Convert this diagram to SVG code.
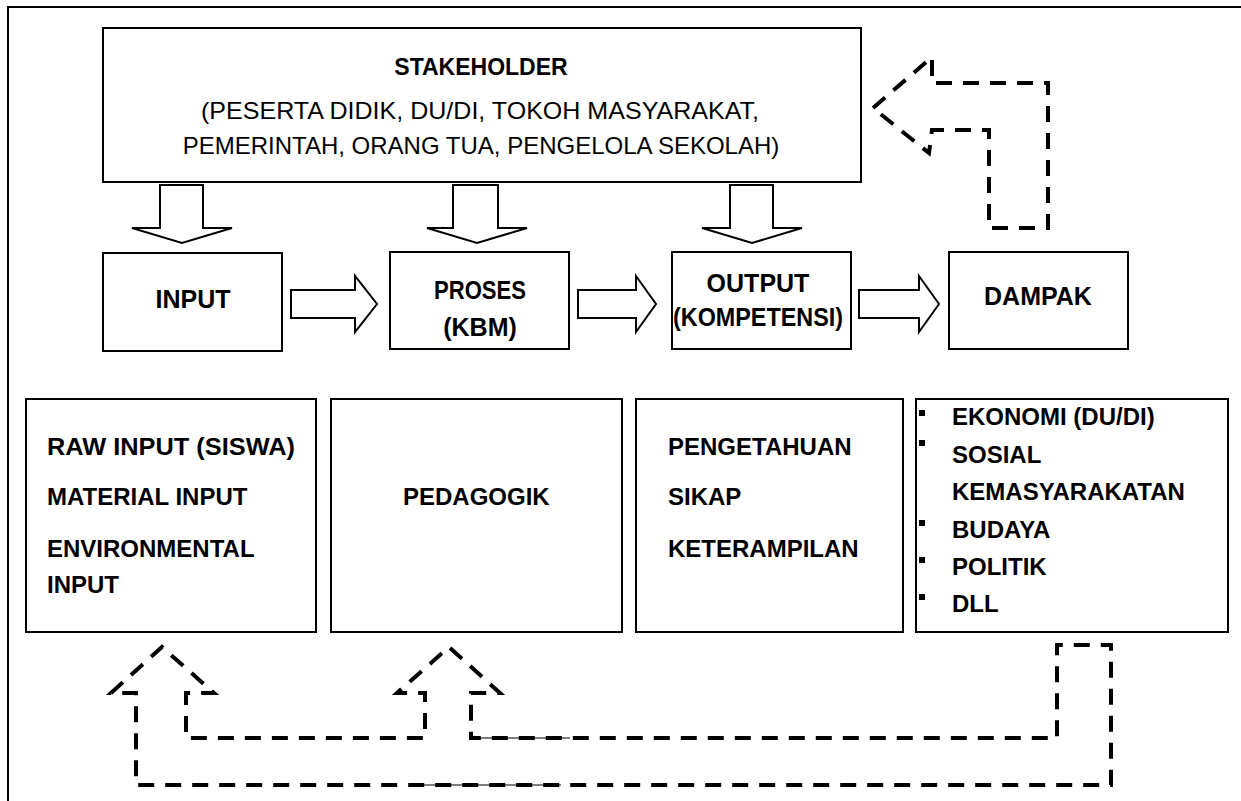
<svg xmlns="http://www.w3.org/2000/svg" width="1241" height="801" viewBox="0 0 1241 801">
<style>
  .box { fill: #fff; stroke: #000; stroke-width: 2; }
  .blk { fill: #fff; stroke: #000; stroke-width: 2; stroke-linejoin: miter; }
  .dash { fill: none; stroke: #000; stroke-width: 4; stroke-dasharray: 16 11; }
  .thin { fill: none; stroke: #000; stroke-width: 1; }
  text { font-family: "Liberation Sans", Arial, sans-serif; fill: #000; }
  .b { font-weight: bold; }
  .mid { font-size: 25px; font-weight: bold; text-anchor: middle; }
  .low { font-size: 24px; font-weight: bold; }
</style>
<rect x="0" y="0" width="1241" height="801" fill="#fff"/>
<path d="M8,801 L8,7 L1241,7" fill="none" stroke="#000" stroke-width="2"/>

<g id="stakeholder">
  <rect class="box" x="103" y="28" width="758" height="154"/>
  <text x="481" y="75" font-size="23" class="b" text-anchor="middle">STAKEHOLDER</text>
  <text x="480" y="119" font-size="24" text-anchor="middle" textLength="558" lengthAdjust="spacingAndGlyphs">(PESERTA DIDIK, DU/DI, TOKOH MASYARAKAT,</text>
  <text x="481" y="154" font-size="24" text-anchor="middle">PEMERINTAH, ORANG TUA, PENGELOLA SEKOLAH)</text>
</g>

<g id="input">
  <rect class="box" x="103" y="253" width="179" height="98"/>
  <text class="mid" x="193" y="308">INPUT</text>
</g>
<g id="proses">
  <rect class="box" x="390" y="252" width="179" height="97"/>
  <text class="mid" x="480" y="299" textLength="92" lengthAdjust="spacingAndGlyphs">PROSES</text>
  <text class="mid" x="480" y="336">(KBM)</text>
</g>
<g id="output">
  <rect class="box" x="672" y="252" width="179" height="97"/>
  <text class="mid" x="758" y="292">OUTPUT</text>
  <text class="mid" x="758" y="326" textLength="170" lengthAdjust="spacingAndGlyphs">(KOMPETENSI)</text>
</g>
<g id="dampak">
  <rect class="box" x="949" y="252" width="179" height="97"/>
  <text class="mid" x="1038" y="305">DAMPAK</text>
</g>

<g id="input-detail">
  <rect class="box" x="26" y="399" width="290" height="233"/>
  <text class="low" x="47" y="455" textLength="248" lengthAdjust="spacingAndGlyphs">RAW INPUT (SISWA)</text>
  <text class="low" x="47" y="505">MATERIAL INPUT</text>
  <text class="low" x="47" y="557">ENVIRONMENTAL</text>
  <text class="low" x="47" y="593">INPUT</text>
</g>
<g id="proses-detail">
  <rect class="box" x="331" y="399" width="291" height="233"/>
  <text class="low" x="403" y="505">PEDAGOGIK</text>
</g>
<g id="output-detail">
  <rect class="box" x="636" y="399" width="267" height="233"/>
  <text class="low" x="668" y="455">PENGETAHUAN</text>
  <text class="low" x="668" y="505">SIKAP</text>
  <text class="low" x="668" y="557">KETERAMPILAN</text>
</g>
<g id="dampak-detail">
  <rect class="box" x="916" y="399" width="312" height="233"/>
  <rect x="919" y="410" width="6" height="6"/>
  <rect x="919" y="440" width="6" height="6"/>
  <rect x="919" y="520" width="6" height="6"/>
  <rect x="919" y="557" width="6" height="6"/>
  <rect x="919" y="594" width="6" height="6"/>
  <text class="low" x="952" y="425">EKONOMI (DU/DI)</text>
  <text class="low" x="952" y="463">SOSIAL</text>
  <text class="low" x="952" y="500">KEMASYARAKATAN</text>
  <text class="low" x="952" y="538">BUDAYA</text>
  <text class="low" x="952" y="575">POLITIK</text>
  <text class="low" x="952" y="612">DLL</text>
</g>

<g id="connectors">
  <path class="blk" d="M160,185 L203,185 L203,228 L232,228 L182,243 L132,228 L160,228 Z"/>
  <path class="blk" d="M453,185 L498,185 L498,228 L527,228 L477,243 L427,228 L453,228 Z"/>
  <path class="blk" d="M730,185 L773,185 L773,228 L802,228 L752,243 L702,228 L730,228 Z"/>
  <path class="blk" d="M291,290 L355,290 L355,276 L377,304 L355,332 L355,318 L291,318 Z"/>
  <path class="blk" d="M578,290 L636,290 L636,276 L656,304 L636,332 L636,318 L578,318 Z"/>
  <path class="blk" d="M859,290 L919,290 L919,276 L939,304 L919,332 L919,318 L859,318 Z"/>
  <path class="dash" d="M873,108 L932,57 L932,83 L1048,83 L1048,228 L989,228 L989,130 L932,130 L929,153 Z"/>
  <path class="dash" d="M111,693 L162,647 L214,693 L186,693 L186,738 L425,738 L425,693 L397,693 L449,647 L500,693 L471,693 L471,738 L1057,738 L1057,645 L1111,645 L1111,785 L136,785 L136,693 Z"/>
  <path class="thin" d="M471,738 L570,738 M423,785 L561,785"/>
</g>
</svg>
